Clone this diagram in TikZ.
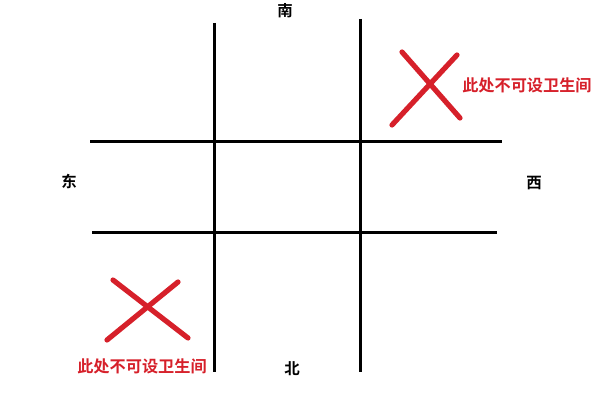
\documentclass[tikz,border=0pt]{standalone}
\usepackage{fontspec}
\newfontfamily\cjk{Noto Sans CJK SC}[BoldFont={Noto Sans CJK SC Bold}]
\definecolor{warnred}{RGB}{214,32,42}

\tikzset{
  wall/.style = {line width = 0.75mm},
  cross/.style = {line width = 1.3mm, warnred, line cap=round},
  dirlabel/.style = {font=\cjk\bfseries\fontsize{11}{13}\selectfont},
  warnlabel/.style = {font=\cjk\bfseries\fontsize{11.5}{13}\selectfont, text=warnred, inner sep=0pt}
}

\begin{document}
\begin{tikzpicture}[x=0.025cm, y=-0.025cm]
						\useasboundingbox (0,0) rectangle (600,400);
						
						\draw[wall] (214,23) -- (214,372);
						\draw[wall] (360,19) -- (360,372);
						\draw[wall] (90,142) -- (502,142);
						\draw[wall] (92,233) -- (497,233);
						
						\node[dirlabel] (south) at (285,11) {南};
						\node[dirlabel] (east) at (69,181) {东};
						\node[dirlabel] (west) at (534,183) {西};
						\node[dirlabel] (north) at (292,369) {北};
						
						\draw[cross] (402,52) -- (460,118);
						\draw[cross] (457,55) -- (392,125);
						\node[warnlabel, anchor=west] (warntop) at (462,85) {此处不可设卫生间};
						
						\draw[cross] (113,280) -- (188,338);
						\draw[cross] (178,282) -- (107,340);
						\node[warnlabel] (warnbottom) at (142,366) {此处不可设卫生间};
						\end{tikzpicture}
\end{document}
